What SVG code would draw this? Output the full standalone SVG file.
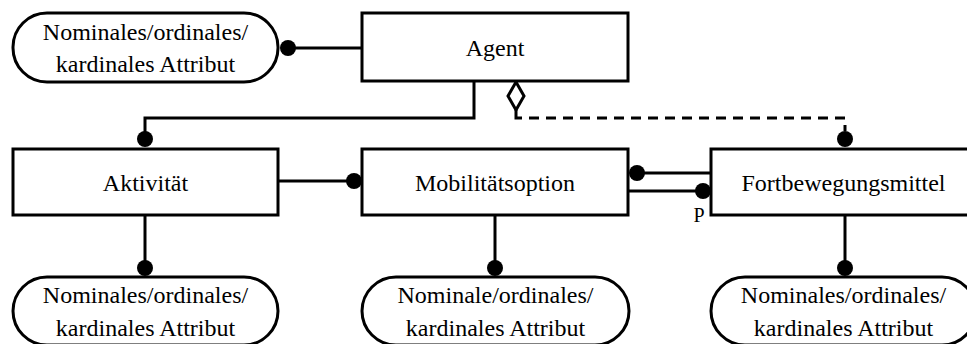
<svg xmlns="http://www.w3.org/2000/svg" width="967" height="344" viewBox="0 0 967 344">
  <style>
    .box { fill: #fff; stroke: #000; stroke-width: 3; }
    .attr { fill: #fff; stroke: #000; stroke-width: 3; }
    text { font-family: 'Liberation Serif', 'Times New Roman', 'DejaVu Serif', serif; fill: #000; text-anchor: middle; }
    .lbl { font-size: 24px; }
    .small { font-size: 20px; }
    .line { fill: none; stroke: #000; stroke-width: 3; }
    .dash { fill: none; stroke: #000; stroke-width: 3; stroke-dasharray: 10 7; }
    .dot { fill: #000; }
  </style>
  <rect width="967" height="344" fill="#fff"/>

  <!-- connectors -->
  <g id="connectors">
    <!-- attribute of Agent -->
    <line class="line" x1="288" y1="48" x2="362" y2="48"/>
    <circle class="dot" cx="288" cy="48" r="8"/>
    <!-- Agent to Aktivität -->
    <path class="line" d="M474,81 V118 H145 V139"/>
    <circle class="dot" cx="145" cy="139" r="8"/>
    <!-- Agent aggregation to Fortbewegungsmittel -->
    <polygon points="516,82 524,96 516,110 508,96" fill="#fff" stroke="#000" stroke-width="3"/>
    <path class="line" d="M516,110 V118 H522"/>
    <path class="dash" d="M529,118 H845 V131"/>
    <circle class="dot" cx="845" cy="139" r="8"/>
    <!-- Aktivität to Mobilitätsoption -->
    <line class="line" x1="278" y1="181" x2="354" y2="181"/>
    <circle class="dot" cx="354" cy="181" r="8"/>
    <!-- Mobilitätsoption / Fortbewegungsmittel -->
    <line class="line" x1="637" y1="173" x2="711" y2="173"/>
    <circle class="dot" cx="637" cy="173" r="8"/>
    <line class="line" x1="628" y1="191" x2="703" y2="191"/>
    <circle class="dot" cx="703" cy="191" r="8"/>
    <text class="small" x="699" y="222" font-family="Liberation Serif, serif">P</text>
    <!-- lower attributes -->
    <line class="line" x1="145" y1="215" x2="145" y2="268"/>
    <circle class="dot" cx="145" cy="268" r="8"/>
    <line class="line" x1="495" y1="215" x2="495" y2="268"/>
    <circle class="dot" cx="495" cy="268" r="8"/>
    <line class="line" x1="845" y1="215" x2="845" y2="268"/>
    <circle class="dot" cx="845" cy="268" r="8"/>
  </g>

  <g id="attr-agent" font-family="Liberation Serif, serif">
    <rect class="attr" x="13" y="13" width="265" height="69" rx="34" ry="34"/>
    <text class="lbl" x="145.5" y="40">Nominales/ordinales/</text>
    <text class="lbl" x="145.5" y="72">kardinales Attribut</text>
  </g>

  <g id="agent">
    <rect class="box" x="362" y="13" width="266" height="68"/>
    <text class="lbl" x="495" y="56">Agent</text>
  </g>

  <g id="aktivitaet">
    <rect class="box" x="13" y="149" width="265" height="66"/>
    <text class="lbl" x="145.5" y="191">Aktivität</text>
  </g>

  <g id="mobilitaetsoption">
    <rect class="box" x="362" y="149" width="266" height="66"/>
    <text class="lbl" x="495" y="191">Mobilitätsoption</text>
  </g>

  <g id="fortbewegungsmittel">
    <rect class="box" x="711" y="149" width="265" height="66"/>
    <text class="lbl" x="843.5" y="191">Fortbewegungsmittel</text>
  </g>

  <g id="attr-aktivitaet">
    <rect class="attr" x="13" y="277" width="265" height="68" rx="34" ry="34"/>
    <text class="lbl" x="145.5" y="303">Nominales/ordinales/</text>
    <text class="lbl" x="145.5" y="336">kardinales Attribut</text>
  </g>

  <g id="attr-mobilitaetsoption">
    <rect class="attr" x="362" y="277" width="267" height="68" rx="34" ry="34"/>
    <text class="lbl" x="495.5" y="303">Nominale/ordinales/</text>
    <text class="lbl" x="495.5" y="336">kardinales Attribut</text>
  </g>

  <g id="attr-fortbewegungsmittel">
    <rect class="attr" x="711" y="277" width="265" height="68" rx="34" ry="34"/>
    <text class="lbl" x="843.5" y="303">Nominales/ordinales/</text>
    <text class="lbl" x="843.5" y="336">kardinales Attribut</text>
  </g>
</svg>
